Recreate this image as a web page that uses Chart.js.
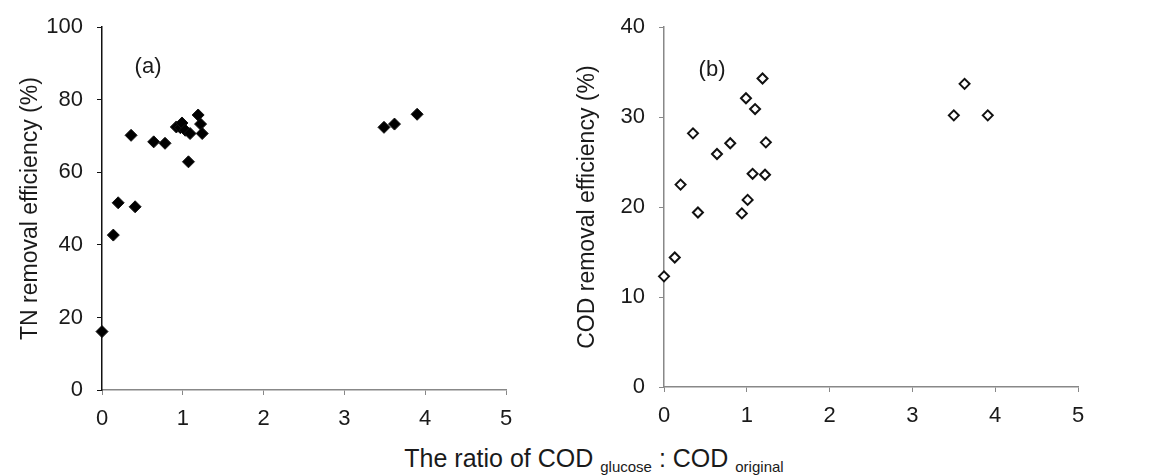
<!DOCTYPE html>
<html>
<head>
<meta charset="utf-8">
<script src="https://cdn.jsdelivr.net/npm/chart.js@4/dist/chart.umd.min.js"></script>
<style>
  body { margin: 0; background: #fff; width: 1170px; height: 476px; position: relative; overflow: hidden; }
  .box { position: absolute; }
  #boxA { left: 0; top: 0; width: 530px; height: 430px; }
  #boxB { left: 560px; top: 0; width: 545px; height: 430px; }
  #xTitle { position: absolute; left: 0; width: 1188px; top: 444px; text-align: center;
    font-family: "Liberation Sans", Arial, sans-serif; font-size: 25px; color: #1a1a1a; }
  #xTitle sub { font-size: 15px; vertical-align: -5px; }
</style>
</head>
<body>
<div class="box" id="boxA"><canvas id="chartA"></canvas></div>
<div class="box" id="boxB"><canvas id="chartB"></canvas></div>
<div id="xTitle">The ratio of COD <sub>glucose</sub> : COD <sub>original</sub></div>
<script>
// ratio COD glucose : COD original
const ratioA = [0, 0.14, 0.2, 0.36, 0.41, 0.64, 0.78, 0.92, 0.97, 0.99, 1.03, 1.09, 1.07, 1.19, 1.22, 1.24, 3.49, 3.62, 3.9];
const tnRemoval = [16.1, 42.7, 51.6, 70.2, 50.5, 68.4, 68.0, 72.5, 72.3, 73.6, 71.6, 70.7, 62.9, 75.8, 73.3, 70.7, 72.4, 73.3, 76.0];

const ratioB = [0, 0.13, 0.2, 0.35, 0.41, 0.64, 0.8, 0.94, 0.99, 1.01, 1.07, 1.1, 1.19, 1.22, 1.23, 3.5, 3.63, 3.91];
const codRemoval = [12.3, 14.4, 22.5, 28.2, 19.4, 25.9, 27.1, 19.3, 32.1, 20.8, 23.7, 30.9, 34.3, 23.6, 27.2, 30.2, 33.7, 30.2];

const xTicks = [0, 1, 2, 3, 4, 5];
const yTicksA = [0, 20, 40, 60, 80, 100];
const yTicksB = [0, 10, 20, 30, 40];

const FONT = '"Liberation Sans", Arial, sans-serif';

// panel letter drawn at a data position
const panelLabel = {
  id: 'panelLabel',
  afterDraw(chart, args, opts) {
    const ctx = chart.ctx;
    const x = chart.scales.x.getPixelForValue(opts.x);
    const y = chart.scales.y.getPixelForValue(opts.y);
    ctx.save();
    ctx.font = '22px ' + FONT;
    ctx.fillStyle = '#1a1a1a';
    ctx.textAlign = 'center';
    ctx.textBaseline = 'middle';
    ctx.fillText(opts.text, x, y);
    ctx.restore();
  }
};

function makeChart(id, xs, ys, yTicks, title, opt) {
  const pts = xs.map((x, i) => ({ x: x, y: ys[i] }));
  return new Chart(document.getElementById(id), {
    type: 'scatter',
    data: {
      datasets: [{
        data: pts,
        clip: false,
        pointStyle: 'rectRot',
        pointRadius: opt.radius,
        pointHoverRadius: opt.radius,
        pointBackgroundColor: opt.fill,
        pointBorderColor: '#111',
        pointBorderWidth: opt.borderWidth
      }]
    },
    options: {
      responsive: true,
      maintainAspectRatio: false,
      animation: false,
      layout: { padding: { top: 27, right: opt.padRight, left: 0, bottom: 0 } },
      plugins: {
        legend: { display: false },
        tooltip: { enabled: false },
        panelLabel: opt.label
      },
      scales: {
        x: {
          type: 'linear',
          min: 0, max: 5,
          afterBuildTicks: s => { s.ticks = xTicks.map(v => ({ value: v })); },
          afterFit: s => { s.height = opt.xHeight; },
          ticks: { font: { family: FONT, size: 22 }, color: '#1a1a1a', padding: 11, maxRotation: 0 },
          grid: { drawOnChartArea: false, drawTicks: true, tickLength: 5, color: '#888' },
          border: { color: '#888', width: 1.5 }
        },
        y: {
          min: 0, max: yTicks[yTicks.length - 1],
          afterBuildTicks: s => { s.ticks = yTicks.map(v => ({ value: v })); },
          afterFit: s => { s.width = opt.yWidth; },
          ticks: { font: { family: FONT, size: 22 }, color: '#1a1a1a', padding: 14 },
          grid: { drawOnChartArea: false, drawTicks: true, tickLength: 5, color: opt.yColor },
          border: { color: opt.yColor, width: 1.5 },
          title: {
            display: true, text: title, color: '#1a1a1a',
            font: { family: FONT, size: 23 },
            padding: { top: opt.titlePad, bottom: 0 }
          }
        }
      }
    },
    plugins: [panelLabel]
  });
}

makeChart('chartA', ratioA, tnRemoval, yTicksA, 'TN removal efficiency (%)', {
  radius: 6, fill: '#000', borderWidth: 1, padRight: 24, xHeight: 40, yWidth: 102,
  yColor: '#111', titlePad: 17, label: { text: '(a)', x: 0.57, y: 89 }
});
makeChart('chartB', ratioB, codRemoval, yTicksB, 'COD removal efficiency (%)', {
  radius: 5, fill: '#fff', borderWidth: 2, padRight: 27, xHeight: 43, yWidth: 104,
  yColor: '#888', titlePad: 14, label: { text: '(b)', x: 0.58, y: 35.2 }
});
</script>
</body>
</html>
